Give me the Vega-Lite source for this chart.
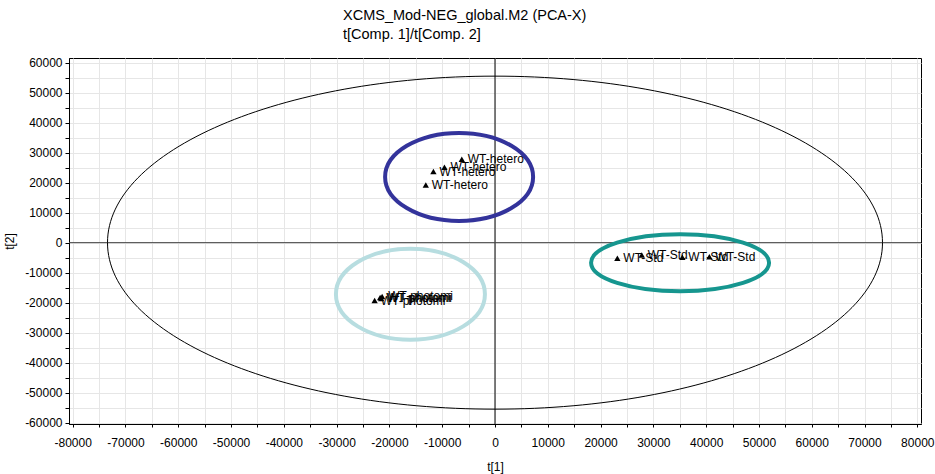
{
  "$schema": "https://vega.github.io/schema/vega-lite/v6.json",
  "width": 852,
  "height": 366,
  "autosize": {"type": "none"},
  "padding": {"left": 69, "top": 58, "right": 14, "bottom": 50},
  "title": {
    "text": ["XCMS_Mod-NEG_global.M2 (PCA-X)", "t[Comp. 1]/t[Comp. 2]"],
    "anchor": "start",
    "frame": "group",
    "dx": 274,
    "offset": 14,
    "font": "Liberation Sans",
    "fontSize": 14.5,
    "fontWeight": "normal",
    "color": "#000",
    "lineHeight": 19
  },
  "datasets": {
    "scores": [
      {"t1": -6290, "t2": 27800, "label": "WT-hetero"},
      {"t1": -9580, "t2": 25130, "label": "WT-hetero"},
      {"t1": -11670, "t2": 23670, "label": "WT-hetero"},
      {"t1": -13110, "t2": 19230, "label": "WT-hetero"},
      {"t1": -22800, "t2": -19270, "label": "WT-photomi"},
      {"t1": -21760, "t2": -18270, "label": "WT-photomi"},
      {"t1": -21380, "t2": -17930, "label": "WT-photomi"},
      {"t1": -21570, "t2": -18600, "label": "WT-photomi"},
      {"t1": 23180, "t2": -5200, "label": "WT-Std"},
      {"t1": 27800, "t2": -4100, "label": "WT-Std"},
      {"t1": 35490, "t2": -4870, "label": "WT-Std"},
      {"t1": 40610, "t2": -4670, "label": "WT-Std"}
    ],
    "origin": [{"t1": 0, "t2": 0}],
    "groups": [
      {"group": "hetero", "t1": -6800, "t2": 21900},
      {"group": "photomi", "t1": -16020, "t2": -17170},
      {"group": "Std", "t1": 35060, "t2": -6700}
    ]
  },
  "encoding": {
    "x": {
      "field": "t1", "type": "quantitative",
      "scale": {"domain": [-80700, 80700], "nice": false, "zero": false},
      "axis": {
        "title": "t[1]",
        "values": [-80000,-75000,-70000,-65000,-60000,-55000,-50000,-45000,-40000,-35000,-30000,-25000,-20000,-15000,-10000,-5000,0,5000,10000,15000,20000,25000,30000,35000,40000,45000,50000,55000,60000,65000,70000,75000,80000],
        "labelExpr": "datum.value % 10000 === 0 ? '' + datum.value : ''",
        "tickSize": 3,
        "labelPadding": 10,
        "titlePadding": 13
      }
    },
    "y": {
      "field": "t2", "type": "quantitative",
      "scale": {"domain": [-60400, 61500], "nice": false, "zero": false},
      "axis": {
        "title": "t[2]",
        "values": [-60000,-55000,-50000,-45000,-40000,-35000,-30000,-25000,-20000,-15000,-10000,-5000,0,5000,10000,15000,20000,25000,30000,35000,40000,45000,50000,55000,60000],
        "labelExpr": "datum.value % 10000 === 0 ? '' + datum.value : ''",
        "tickSize": 4,
        "labelPadding": 3,
        "titlePadding": 8
      }
    }
  },
  "layer": [
    {
      "data": {"name": "origin"},
      "mark": {"type": "rule", "color": "#000", "strokeWidth": 1},
      "encoding": {"x": {"field": "t1", "type": "quantitative"}, "y": null}
    },
    {
      "data": {"name": "origin"},
      "mark": {"type": "rule", "color": "#444", "strokeWidth": 1},
      "encoding": {"y": {"field": "t2", "type": "quantitative"}, "x": null}
    },
    {
      "data": {"name": "origin"},
      "mark": {
        "type": "point", "filled": false, "stroke": "#000", "strokeWidth": 1, "opacity": 1,
        "size": 600625,
        "shape": "M1,0C1,0.2373,0.5523,0.4297,0,0.4297C-0.5523,0.4297,-1,0.2373,-1,0C-1,-0.2373,-0.5523,-0.4297,0,-0.4297C0.5523,-0.4297,1,-0.2373,1,0Z"
      }
    },
    {
      "data": {"name": "groups"},
      "transform": [{"filter": "datum.group === 'hetero'"}],
      "mark": {
        "type": "point", "filled": false, "stroke": "#33339b", "strokeWidth": 4, "opacity": 1,
        "size": 21904,
        "shape": "M1,0C1,0.3284,0.5523,0.5946,0,0.5946C-0.5523,0.5946,-1,0.3284,-1,0C-1,-0.3284,-0.5523,-0.5946,0,-0.5946C0.5523,-0.5946,1,-0.3284,1,0Z"
      }
    },
    {
      "data": {"name": "groups"},
      "transform": [{"filter": "datum.group === 'photomi'"}],
      "mark": {
        "type": "point", "filled": false, "stroke": "#b7dde0", "strokeWidth": 4, "opacity": 1,
        "size": 22201,
        "shape": "M1,0C1,0.3375,0.5523,0.611,0,0.611C-0.5523,0.611,-1,0.3375,-1,0C-1,-0.3375,-0.5523,-0.611,0,-0.611C0.5523,-0.611,1,-0.3375,1,0Z"
      }
    },
    {
      "data": {"name": "groups"},
      "transform": [{"filter": "datum.group === 'Std'"}],
      "mark": {
        "type": "point", "filled": false, "stroke": "#16968f", "strokeWidth": 4, "opacity": 1,
        "size": 31684,
        "shape": "M1,0C1,0.1767,0.5523,0.32,0,0.32C-0.5523,0.32,-1,0.1767,-1,0C-1,-0.1767,-0.5523,-0.32,0,-0.32C0.5523,-0.32,1,-0.1767,1,0Z"
      }
    },
    {
      "data": {"name": "scores"},
      "mark": {"type": "point", "shape": "triangle-up", "filled": true, "color": "#000", "size": 40, "opacity": 1}
    },
    {
      "data": {"name": "scores"},
      "mark": {"type": "text", "align": "left", "baseline": "middle", "dx": 6, "font": "Liberation Sans", "fontSize": 12, "color": "#000"},
      "encoding": {"text": {"field": "label"}}
    }
  ],
  "config": {
    "view": {"stroke": "#000", "strokeWidth": 1},
    "axis": {
      "domainColor": "#000",
      "tickColor": "#000",
      "gridColor": "#e6e6e6",
      "gridWidth": 1,
      "labelFont": "Liberation Sans",
      "labelFontSize": 12,
      "labelColor": "#000",
      "titleFont": "Liberation Sans",
      "titleFontSize": 12,
      "titleFontWeight": "normal",
      "titleColor": "#000"
    }
  }
}
